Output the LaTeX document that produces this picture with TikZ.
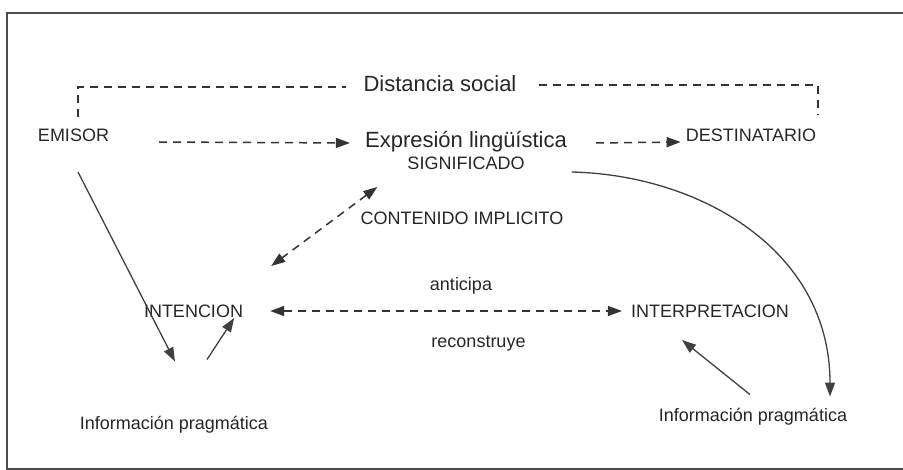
\documentclass[tikz,border=0pt]{standalone}
\usepackage{fontspec}
\setmainfont{Liberation Sans}
\usetikzlibrary{arrows.meta}

\begin{document}
\begin{tikzpicture}[x=1pt,y=-1pt,
  big/.style={font=\fontsize{22}{24}\selectfont,anchor=base,inner sep=0pt,text=black!85},
  lbl/.style={font=\fontsize{18}{20}\selectfont,anchor=base,inner sep=0pt,text=black!85},
  dsh/.style={line width=1.5pt,black!80,dash pattern=on 8pt off 6pt},
  sld/.style={line width=1.3pt,black!75},
  tip/.style={-{Triangle[length=14pt,width=10pt]}},
  tips/.style={{Triangle[length=14pt,width=10pt]}-{Triangle[length=14pt,width=10pt]}}]
\useasboundingbox (0,0) rectangle (903,470);
    % Frame
    \draw[gray!60!black,line width=2pt] (903,13) -- (7,13) -- (7,469) -- (903,469);

    % Texts
    \node[big] (dist) at (440,92) {Distancia social};
    \node[lbl] (emisor) at (73.5,142) {EMISOR};
    \node[big] (expr) at (466,148) {Expresión lingüística};
    \node[lbl] (signif) at (466,170) {SIGNIFICADO};
    \node[lbl] (dest) at (751,142) {DESTINATARIO};
    \node[lbl] (implic) at (462,225) {CONTENIDO IMPLICITO};
    \node[lbl] (antic) at (461,291) {anticipa};
    \node[lbl] (intenc) at (193.5,318) {INTENCION};
    \node[lbl] (interp) at (710,318) {INTERPRETACION};
    \node[lbl] (recons) at (478.5,348) {reconstruye};
    \node[lbl] (infoL) at (174,429) {Información pragmática};
    \node[lbl] (infoR) at (753,421) {Información pragmática};

    % Social distance bracket
    \coordinate (eup) at (78,117);
    \coordinate (dup) at (818,115);
    \draw[dsh] (eup) |- ([xshift=-17pt,yshift=-3pt]dist.west);
    \draw[dsh] ([xshift=22pt,yshift=-1pt]dist.east) -| (dup);

    % Dashed arrows
    \draw[dsh,tip] ([xshift=50pt]emisor.base east) -- ([xshift=-15pt,yshift=5pt]expr.base west);
    \draw[dsh,tip] ([xshift=29pt,yshift=5pt]expr.base east) -- ([xshift=-5pt]dest.base west);
    \draw[dsh,tips] ([xshift=-30pt,yshift=-17pt]signif.base west) -- ([xshift=28pt,yshift=52pt]intenc.base east);
    \draw[dsh,tips] ([xshift=27pt,yshift=7pt]intenc.base east) -- ([xshift=-9pt,yshift=7pt]interp.base west);

    % Solid arrows
    \draw[sld,tip] ([xshift=47pt,yshift=-2pt]signif.base east)
        .. controls (700,175) and (830,250) .. ([xshift=77pt,yshift=11pt]infoR.north);
    \draw[sld,tip] ([xshift=4.5pt,yshift=-30pt]emisor.base) -- ([xshift=1pt,yshift=54pt]infoL.north);
    \draw[sld,tip] ([xshift=33pt,yshift=56pt]infoL.north) -- ([xshift=-9pt]intenc.base east);
    \draw[sld,tip] ([xshift=-3pt,yshift=13pt]infoR.north) -- ([xshift=-28pt,yshift=-22pt]interp.base);

\end{tikzpicture}
\end{document}
